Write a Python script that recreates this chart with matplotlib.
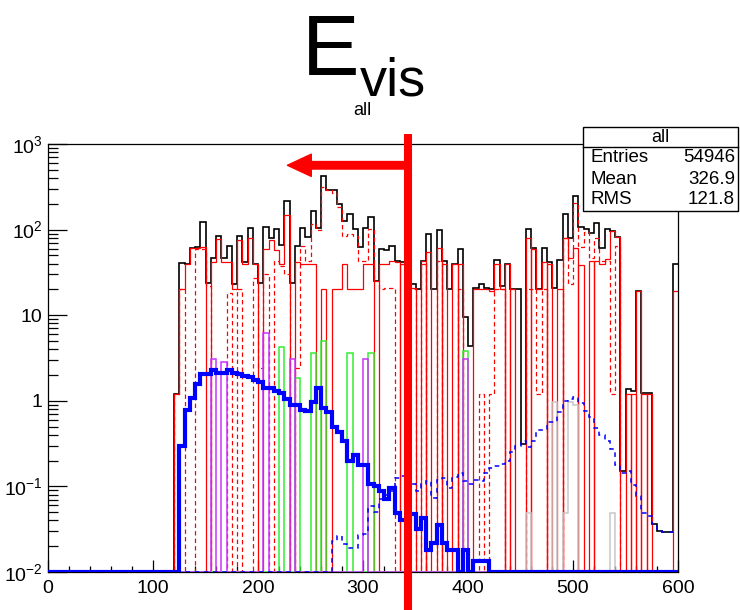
import numpy as np
import matplotlib
matplotlib.use("Agg")
import matplotlib.pyplot as plt
from matplotlib.patches import Rectangle, FancyArrowPatch
from matplotlib.lines import Line2D

plt.rcParams['font.family'] = ['Liberation Sans', 'DejaVu Sans']
plt.rcParams['mathtext.fontset'] = 'custom'
plt.rcParams['mathtext.rm'] = 'Liberation Sans'
plt.rcParams['mathtext.it'] = 'Liberation Sans:italic'
plt.rcParams['mathtext.bf'] = 'Liberation Sans:bold'

# binning: 120 bins of width 5 from 0 to 600
edges = np.arange(0, 605, 5)

# all histograms below start at bin 24 (120-125) unless said otherwise
total = [1.2, 41, 40, 61, 62, 123, 24, 46, 85, 46, 65, 23,
         84, 42, 105, 40, 24, 108, 80, 102, 66, 217, 24, 65,
         105, 82, 166, 105, 424, 292, 292, 200, 126, 153, 102, 63,
         105, 141, 25, 60, 58, 65, 43, 42, 43, 23, 20, 43,
         89, 20, 99, 43, 20, 40, 60, 9.6, 4.4, 21, 23, 21,
         20, 44, 22, 40, 20, 20, 0.31, 102, 61, 20, 61, 42,
         21, 44, 153, 80, 250, 108, 102, 92, 120, 61, 102, 97,
         82, 0.15, 1.38, 1.3, 19, 1.25, 1.25, 0.036, 0.030, 0.029, 0.029, 40]

red_solid = [1.2, 20, 40, 61, 61, 62, 0, 42, 78, 42, 42, 20,
             75, 40, 80, 40, 0, 60, 75, 58, 40, 150, 0, 42,
             40, 40, 40, 0, 20, 0, 20, 20, 40, 20, 20, 20,
             40, 40, 0, 40, 40, 43, 42, 40, 40, 21, 0, 40,
             55, 0, 61, 40, 0, 40, 40, 0, 0, 20, 20, 20,
             19, 40, 20, 40, 20, 0, 0, 80, 60, 20, 42, 40,
             0, 20, 80, 47, 61, 39, 0, 43, 43, 40, 45, 97,
             82, 0, 1.2, 1.2, 19, 1.2, 1.2, 0, 0, 0, 0, 19]

red_dashed = [1.2, 20, 0, 0, 60, 60, 22, 0, 0, 0, 18, 0,
              20, 0, 0, 27, 2.4, 30, 0, 43, 38, 30, 0, 2.4,
              65, 43, 117, 100, 316, 290, 270, 186, 85, 89, 85, 43,
              43, 102, 25, 20, 21, 21, 0, 0, 20, 20, 0, 43,
              0, 0, 43, 0, 0, 0, 20, 0, 0, 0, 1.2, 0,
              1.2, 20, 20, 0, 0, 0, 0, 20, 20, 1.2, 20, 0,
              0, 0, 80, 23, 205, 63, 95, 47, 80, 43, 43, 1.2,
              65, 0, 0, 0, 0, 0, 0, 0, 0, 0, 0, 0]

# x ranges where the red solid bins come from separate one-bin histos
comb_ranges = [(335, 405), (435, 460), (475, 490), (505, 520), (545, 580)]

# thick blue, from bin 25 (125-130)
blue_main = [0.30, 0.78, 1.08, 1.58, 2.05, 2.05, 2.28, 2.14, 2.14, 2.28,
             2.09, 2.05, 1.96, 1.92, 1.74, 1.64, 1.41, 1.41, 1.31, 1.25,
             1.05, 0.90, 0.90, 0.79, 0.76, 0.98, 1.41, 0.82, 0.73, 0.49,
             0.43, 0.34, 0.20, 0.23, 0.18, 0.18, 0.106, 0.10, 0.089, 0.071,
             0.097, 0.049, 0.040, 0.040, 0.047, 0.032, 0.043, 0.018, 0.022, 0.035,
             0.022, 0.018, 0.018, 0, 0.018, 0, 0.0135, 0.0135, 0.0135]

# dashed blue, from bin 54 (270-275)
blue_dash = [0.023, 0.026, 0.021, 0.019, 0.019, 0.027, 0.028, 0.059, 0.05, 0.071,
             0.08, 0.089, 0.127, 0.133, 0.12, 0.107, 0.089, 0.107, 0.116, 0.074,
             0.12, 0.127, 0.097, 0.13, 0.145, 0.116, 0.107, 0.12, 0.116, 0.145,
             0.166, 0.175, 0.185, 0.199, 0.25, 0.30, 0.34, 0.29, 0.34, 0.45,
             0.45, 0.57, 0.56, 0.73, 1.0, 1.05, 1.11, 0.95, 0.75, 0.65,
             0.48, 0.40, 0.34, 0.27, 0.18, 0.145, 0.15, 0.104, 0.078, 0.049,
             0.045, 0.036, 0.030, 0.029, 0.029, 0.029]

# sparse ones: lower bin edge -> content
magenta_lo = [155, 165, 205, 230, 300, 395]
magenta_val = [3.1, 2.86, 6.2, 3.1, 3.1, 3.1]
green_lo = [220, 235, 250, 260, 285, 305, 395]
green_val = [4.2, 1.85, 3.6, 5.0, 3.6, 3.6, 3.8]
gray_lo = [455, 480, 490, 495, 500, 535]
gray_val = [0.049, 0.96, 0.049, 0.96, 0.9, 0.049]

cut_x = 343
arrow_to = 228
arrow_y = 564
stat_names = ["Entries", "Mean", "RMS"]
stat_vals = ["54946", "326.9", "121.8"]

YMIN, YMAX = 1e-2, 1e3
W, H = 740, 610


def full(vals, start):
    h = np.zeros(len(edges) - 1)
    h[start:start + len(vals)] = vals
    return h


def sparse(lows, vals):
    h = np.zeros(len(edges) - 1)
    h[np.searchsorted(edges, lows)] = vals
    return h


fig = plt.figure(figsize=(W / 100, H / 100), dpi=100)
ax = fig.add_axes([48 / W, 38 / H, 630 / W, 428 / H])
ax.set_yscale('log')
ax.set_xlim(0, 600)
ax.set_ylim(YMIN, YMAX)


def stairs(h, **kw):
    # empty bins sit on the frame bottom, like root does on log y
    ax.stairs(np.clip(h, YMIN, None), edges, baseline=None, **kw)


# split red solid: inside comb ranges odd bins go to a second histo
rs = full(red_solid, 24)
lo = edges[:-1]
in_comb = np.zeros(len(lo), bool)
for a, b in comb_ranges:
    in_comb |= (lo >= a) & (lo < b)
odd = in_comb & (np.arange(len(lo)) % 2 == 1)
rs_a = np.where(odd, 0, rs)
rs_b = np.where(odd, rs, 0)

stairs(full(total, 24), color='black', lw=1.2, zorder=2)
stairs(full(red_dashed, 24), color='red', lw=0.9, linestyle=(0, (3.5, 2.5)), zorder=3)
stairs(rs_a, color='red', lw=0.9, zorder=3)
stairs(rs_b, color='red', lw=0.9, zorder=3)
stairs(sparse(gray_lo, gray_val), color='#c8c8c8', lw=1.1, zorder=4)
stairs(sparse(green_lo, green_val), color='#33ee33', lw=1.1, zorder=4)
stairs(sparse(magenta_lo, magenta_val), color='#cc33ff', lw=1.1, zorder=4)
stairs(full(blue_dash, 54), color='#0000ff', lw=1.1, linestyle=(0, (3, 3)), zorder=5)
stairs(full(blue_main, 25), color='#0000ff', lw=3, zorder=6)

# cut line and arrow
ax.plot([cut_x, cut_x], [0.002, 1320], color='red', lw=5.8,
        solid_capstyle='butt', clip_on=False, zorder=10)
arr = FancyArrowPatch((cut_x, arrow_y), (arrow_to, arrow_y),
                      arrowstyle='simple,head_length=0.86,head_width=0.8,tail_width=0.27',
                      mutation_scale=20, color='red', shrinkA=0, shrinkB=0,
                      clip_on=False, zorder=10)
ax.add_patch(arr)

# axes look
ax.set_xticks(range(0, 601, 100))
ax.set_xticks(range(0, 601, 20), minor=True)
ax.set_yticks([1e-2, 1e-1, 1, 10, 1e2, 1e3])
ax.set_yticklabels(['10$^{-2}$', '10$^{-1}$', '1', '10', '10$^{2}$', '10$^{3}$'])
ax.yaxis.set_minor_locator(matplotlib.ticker.LogLocator(base=10, subs=np.arange(2, 10)))
ax.yaxis.set_minor_formatter(matplotlib.ticker.NullFormatter())
ax.tick_params(axis='y', which='major', direction='in', length=14, width=0.9, labelsize=14, pad=4)
ax.tick_params(axis='y', which='minor', direction='in', length=7, width=0.9)
ax.tick_params(axis='x', which='major', direction='in', length=8.5, width=0.9, labelsize=14, pad=6)
ax.tick_params(axis='x', which='minor', direction='in', length=4.3, width=0.9)
for s in ax.spines.values():
    s.set_linewidth(0.9)

# title
fig.text(302 / W, 1 - 75 / H, 'E', fontsize=62, va='baseline')
fig.text(360 / W, 1 - 95 / H, 'vis', fontsize=39, va='baseline')
fig.text(353 / W, 1 - 115 / H, 'all', fontsize=13, va='baseline')

# stats box
bx0, by0, bx1, by1 = 583, 127, 738, 211
fig.add_artist(Rectangle((bx0 / W, 1 - by1 / H), (bx1 - bx0) / W, (by1 - by0) / H,
                         transform=fig.transFigure, facecolor='white',
                         edgecolor='black', lw=1, zorder=20))
fig.add_artist(Line2D([bx0 / W, bx1 / W], [1 - 147 / H] * 2, color='black', lw=1, zorder=21))
fig.text((bx0 + bx1) / 2 / W, 1 - 137 / H, 'all', fontsize=13, ha='center', va='center', zorder=22)
for i in range(3):
    yy = 1 - (158 + 21 * i) / H
    fig.text(590 / W, yy, stat_names[i], fontsize=13.5, va='center', zorder=22)
    fig.text(735 / W, yy, stat_vals[i], fontsize=13.5, ha='right', va='center', zorder=22)

fig.savefig('out.png', dpi=100)
